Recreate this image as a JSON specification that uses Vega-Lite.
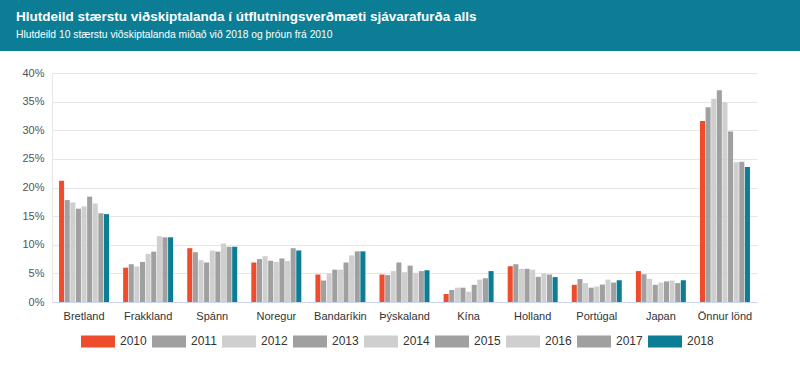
{
  "$schema": "https://vega.github.io/schema/vega-lite/v6.json",
  "background": "white",
  "padding": 0,
  "spacing": 16,
  "config": {
    "font": "Liberation Sans",
    "view": {"stroke": null}
  },
  "vconcat": [
    {
      "width": 800,
      "height": 51,
      "data": {"values": [{"t": "header"}]},
      "mark": {"type": "rect", "color": "#0b7e95"},
      "title": {
        "text": "Hlutdeild stærstu viðskiptalanda í útflutningsverðmæti sjávarafurða alls",
        "subtitle": "Hlutdeild 10 stærstu viðskiptalanda miðað við 2018 og þróun frá 2010",
        "anchor": "start",
        "frame": "group",
        "orient": "top",
        "offset": -40,
        "dx": 16,
        "color": "white",
        "subtitleColor": "white",
        "fontSize": 13.5,
        "fontWeight": "bold",
        "subtitleFontSize": 10.3,
        "subtitleFontWeight": "normal",
        "subtitlePadding": 6,
        "font": "Liberation Sans",
        "subtitleFont": "Liberation Sans"
      }
    },
    {
      "width": 757,
      "height": 229,
      "data": {
        "values": [
          {"land": "Bretland", "ar": "2010", "v": 21.2},
          {"land": "Bretland", "ar": "2011", "v": 17.8},
          {"land": "Bretland", "ar": "2012", "v": 17.4},
          {"land": "Bretland", "ar": "2013", "v": 16.3},
          {"land": "Bretland", "ar": "2014", "v": 16.7},
          {"land": "Bretland", "ar": "2015", "v": 18.4},
          {"land": "Bretland", "ar": "2016", "v": 17.2},
          {"land": "Bretland", "ar": "2017", "v": 15.5},
          {"land": "Bretland", "ar": "2018", "v": 15.35},
          {"land": "Frakkland", "ar": "2010", "v": 6.0},
          {"land": "Frakkland", "ar": "2011", "v": 6.6},
          {"land": "Frakkland", "ar": "2012", "v": 6.2},
          {"land": "Frakkland", "ar": "2013", "v": 7.0},
          {"land": "Frakkland", "ar": "2014", "v": 8.4},
          {"land": "Frakkland", "ar": "2015", "v": 8.8},
          {"land": "Frakkland", "ar": "2016", "v": 11.5},
          {"land": "Frakkland", "ar": "2017", "v": 11.3},
          {"land": "Frakkland", "ar": "2018", "v": 11.3},
          {"land": "Spánn", "ar": "2010", "v": 9.4},
          {"land": "Spánn", "ar": "2011", "v": 8.7},
          {"land": "Spánn", "ar": "2012", "v": 7.3},
          {"land": "Spánn", "ar": "2013", "v": 6.9},
          {"land": "Spánn", "ar": "2014", "v": 9.0},
          {"land": "Spánn", "ar": "2015", "v": 8.8},
          {"land": "Spánn", "ar": "2016", "v": 10.2},
          {"land": "Spánn", "ar": "2017", "v": 9.65},
          {"land": "Spánn", "ar": "2018", "v": 9.65},
          {"land": "Noregur", "ar": "2010", "v": 6.9},
          {"land": "Noregur", "ar": "2011", "v": 7.5},
          {"land": "Noregur", "ar": "2012", "v": 8.0},
          {"land": "Noregur", "ar": "2013", "v": 7.2},
          {"land": "Noregur", "ar": "2014", "v": 7.0},
          {"land": "Noregur", "ar": "2015", "v": 7.6},
          {"land": "Noregur", "ar": "2016", "v": 7.15},
          {"land": "Noregur", "ar": "2017", "v": 9.4},
          {"land": "Noregur", "ar": "2018", "v": 9.0},
          {"land": "Bandaríkin", "ar": "2010", "v": 4.8},
          {"land": "Bandaríkin", "ar": "2011", "v": 3.75},
          {"land": "Bandaríkin", "ar": "2012", "v": 5.0},
          {"land": "Bandaríkin", "ar": "2013", "v": 5.65},
          {"land": "Bandaríkin", "ar": "2014", "v": 5.65},
          {"land": "Bandaríkin", "ar": "2015", "v": 6.9},
          {"land": "Bandaríkin", "ar": "2016", "v": 8.15},
          {"land": "Bandaríkin", "ar": "2017", "v": 8.85},
          {"land": "Bandaríkin", "ar": "2018", "v": 8.85},
          {"land": "Þýskaland", "ar": "2010", "v": 4.8},
          {"land": "Þýskaland", "ar": "2011", "v": 4.7},
          {"land": "Þýskaland", "ar": "2012", "v": 5.4},
          {"land": "Þýskaland", "ar": "2013", "v": 6.9},
          {"land": "Þýskaland", "ar": "2014", "v": 5.2},
          {"land": "Þýskaland", "ar": "2015", "v": 6.35},
          {"land": "Þýskaland", "ar": "2016", "v": 5.1},
          {"land": "Þýskaland", "ar": "2017", "v": 5.4},
          {"land": "Þýskaland", "ar": "2018", "v": 5.55},
          {"land": "Kína", "ar": "2010", "v": 1.4},
          {"land": "Kína", "ar": "2011", "v": 2.1},
          {"land": "Kína", "ar": "2012", "v": 2.5},
          {"land": "Kína", "ar": "2013", "v": 2.5},
          {"land": "Kína", "ar": "2014", "v": 1.8},
          {"land": "Kína", "ar": "2015", "v": 3.0},
          {"land": "Kína", "ar": "2016", "v": 3.9},
          {"land": "Kína", "ar": "2017", "v": 4.15},
          {"land": "Kína", "ar": "2018", "v": 5.4},
          {"land": "Holland", "ar": "2010", "v": 6.25},
          {"land": "Holland", "ar": "2011", "v": 6.6},
          {"land": "Holland", "ar": "2012", "v": 5.8},
          {"land": "Holland", "ar": "2013", "v": 5.8},
          {"land": "Holland", "ar": "2014", "v": 5.65},
          {"land": "Holland", "ar": "2015", "v": 4.4},
          {"land": "Holland", "ar": "2016", "v": 5.0},
          {"land": "Holland", "ar": "2017", "v": 4.8},
          {"land": "Holland", "ar": "2018", "v": 4.35},
          {"land": "Portúgal", "ar": "2010", "v": 3.0},
          {"land": "Portúgal", "ar": "2011", "v": 4.0},
          {"land": "Portúgal", "ar": "2012", "v": 3.3},
          {"land": "Portúgal", "ar": "2013", "v": 2.5},
          {"land": "Portúgal", "ar": "2014", "v": 2.7},
          {"land": "Portúgal", "ar": "2015", "v": 3.05},
          {"land": "Portúgal", "ar": "2016", "v": 3.9},
          {"land": "Portúgal", "ar": "2017", "v": 3.4},
          {"land": "Portúgal", "ar": "2018", "v": 3.8},
          {"land": "Japan", "ar": "2010", "v": 5.4},
          {"land": "Japan", "ar": "2011", "v": 4.85},
          {"land": "Japan", "ar": "2012", "v": 4.05},
          {"land": "Japan", "ar": "2013", "v": 3.0},
          {"land": "Japan", "ar": "2014", "v": 3.4},
          {"land": "Japan", "ar": "2015", "v": 3.6},
          {"land": "Japan", "ar": "2016", "v": 3.75},
          {"land": "Japan", "ar": "2017", "v": 3.3},
          {"land": "Japan", "ar": "2018", "v": 3.8},
          {"land": "Önnur lönd", "ar": "2010", "v": 31.6},
          {"land": "Önnur lönd", "ar": "2011", "v": 34.0},
          {"land": "Önnur lönd", "ar": "2012", "v": 35.5},
          {"land": "Önnur lönd", "ar": "2013", "v": 37.0},
          {"land": "Önnur lönd", "ar": "2014", "v": 34.9},
          {"land": "Önnur lönd", "ar": "2015", "v": 29.8},
          {"land": "Önnur lönd", "ar": "2016", "v": 24.4},
          {"land": "Önnur lönd", "ar": "2017", "v": 24.5},
          {"land": "Önnur lönd", "ar": "2018", "v": 23.6}
        ]
      },
      "mark": {"type": "bar"},
      "encoding": {
        "x": {
          "field": "land",
          "type": "nominal",
          "sort": null,
          "scale": {"range": [52, 757], "paddingInner": 0.22, "paddingOuter": 0.11},
          "axis": {
            "title": null,
            "labelAngle": 0,
            "labelFontSize": 11,
            "labelColor": "#333333",
            "labelPadding": 8,
            "ticks": false,
            "domainColor": "#ccd6eb",
            "grid": false
          }
        },
        "xOffset": {
          "field": "ar",
          "type": "nominal",
          "scale": {"paddingInner": 0.1}
        },
        "y": {
          "field": "v",
          "type": "quantitative",
          "scale": {"domain": [0, 40]},
          "axis": {
            "title": null,
            "offset": -52,
            "minExtent": 0,
            "values": [0, 5, 10, 15, 20, 25, 30, 35, 40],
            "labelExpr": "datum.value + '%'",
            "labelFontSize": 11,
            "labelColor": "#555555",
            "labelPadding": 8,
            "ticks": false,
            "domainColor": "#e6e6e6",
            "gridColor": "#e6e6e6"
          }
        },
        "color": {
          "field": "ar",
          "type": "nominal",
          "scale": {
            "domain": ["2010", "2011", "2012", "2013", "2014", "2015", "2016", "2017", "2018"],
            "range": ["#ee4d2d", "#a0a0a0", "#cfcfcf", "#a0a0a0", "#cfcfcf", "#a0a0a0", "#cfcfcf", "#a0a0a0", "#0b7e95"]
          },
          "legend": {
            "title": null,
            "orient": "none",
            "legendX": 81,
            "legendY": 324,
            "direction": "horizontal",
            "symbolType": "M-1,-0.353H1V0.353H-1Z",
            "symbolSize": 1156,
            "symbolStrokeWidth": 0,
            "symbolOpacity": 1,
            "labelFontSize": 12,
            "labelColor": "#333333",
            "labelOffset": 5,
            "columnPadding": 5
          }
        }
      }
    }
  ]
}
